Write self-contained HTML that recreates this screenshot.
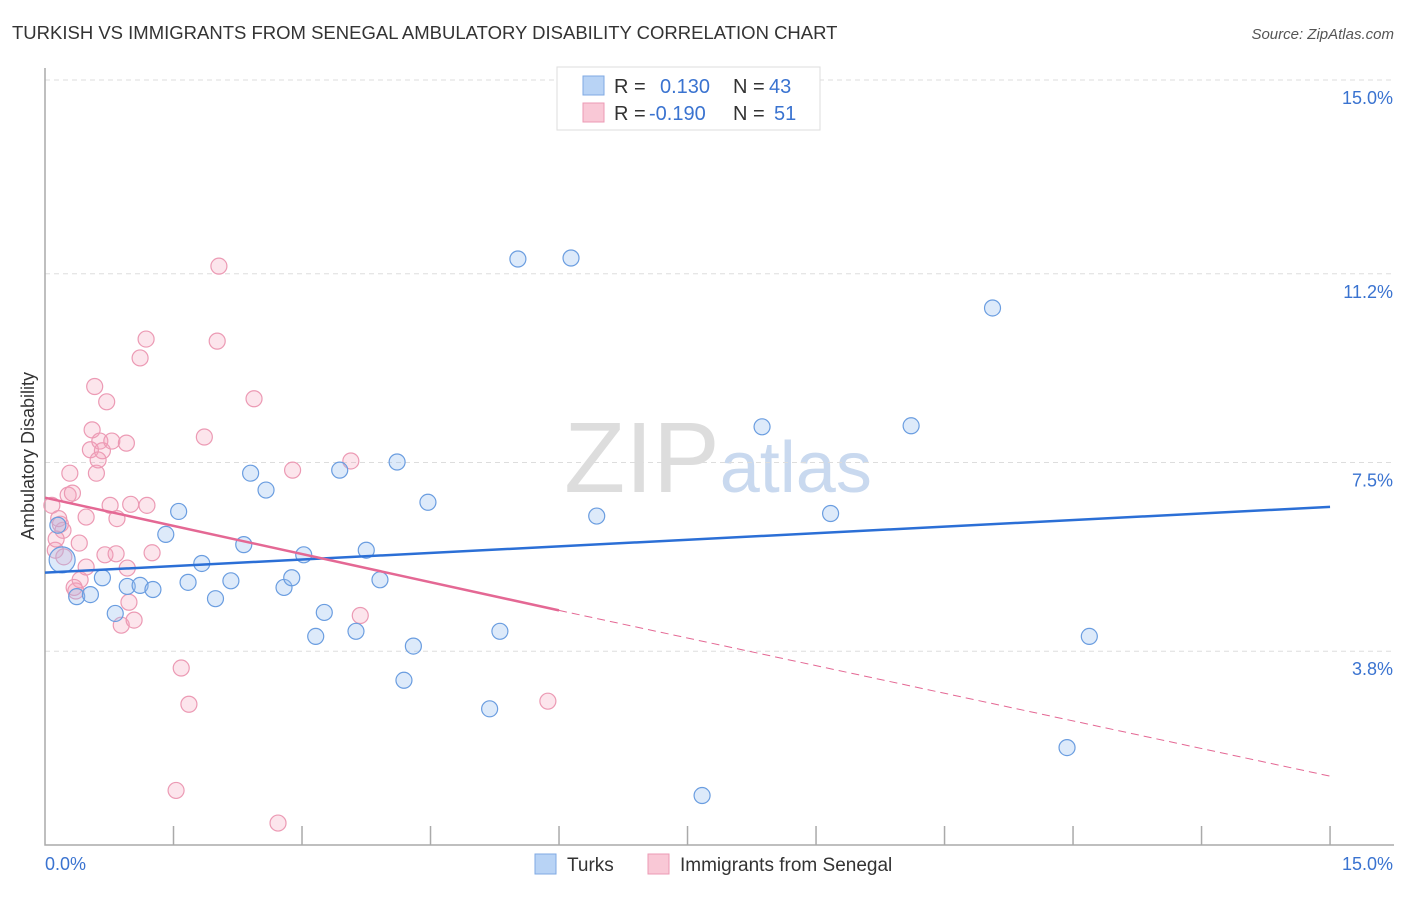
<!DOCTYPE html>
<html><head><meta charset="utf-8"><style>
body{margin:0;background:#fff;font-family:"Liberation Sans",sans-serif;}
svg text{font-family:"Liberation Sans",sans-serif;}
</style></head><body>
<svg id="chart" width="1406" height="892" xmlns="http://www.w3.org/2000/svg">
<text x="12" y="39" font-size="18.5" fill="#333">TURKISH VS IMMIGRANTS FROM SENEGAL AMBULATORY DISABILITY CORRELATION CHART</text>
<text x="1394" y="39" font-size="15" fill="#555" font-style="italic" text-anchor="end">Source: ZipAtlas.com</text>
<text x="718" y="492" font-size="100" text-anchor="middle" fill="#ddd" font-family="Liberation Serif,serif">ZIP<tspan fill="#c9d9ef" font-family="Liberation Sans,sans-serif" font-size="72">atlas</tspan></text>
<g id="grid"></g><g id="axes"></g><g id="pts"></g><g id="trend"></g>
<text transform="translate(34,456) rotate(-90)" font-size="18" fill="#333" text-anchor="middle">Ambulatory Disability</text>
<g>
<rect x="557" y="67" width="263" height="63" fill="#fff" stroke="#ddd"/>
<rect x="583" y="76" width="21" height="19" fill="#b8d3f5" stroke="#7fa9e3"/>
<rect x="583" y="103" width="21" height="19" fill="#f9c8d6" stroke="#ec9ab4"/>
<text x="614" y="93" font-size="20" fill="#333">R =</text><text x="660" y="93" font-size="20" fill="#3a73d0">0.130</text>
<text x="733" y="93" font-size="20" fill="#333">N =</text><text x="769" y="93" font-size="20" fill="#3a73d0">43</text>
<text x="614" y="120" font-size="20" fill="#333">R =</text><text x="649" y="120" font-size="20" fill="#3a73d0">-0.190</text>
<text x="733" y="120" font-size="20" fill="#333">N =</text><text x="774" y="120" font-size="20" fill="#3a73d0">51</text>
</g>
<g><rect x="535" y="854" width="21" height="20" fill="#b8d3f5" stroke="#7fa9e3"/><text x="567" y="871" font-size="19" fill="#333">Turks</text></g>
<g><rect x="648" y="854" width="21" height="20" fill="#f9c8d6" stroke="#ec9ab4"/><text x="680" y="871" font-size="19" fill="#333">Immigrants from Senegal</text></g>
</svg>
<script>
const yTicks=[15.0,11.2,7.5,3.8];
const yTickLabels=["15.0%","11.2%","7.5%","3.8%"];
const xTickLabels=["0.0%","15.0%"];
const turksX=[0.20,0.15,0.67,0.37,0.53,0.82,0.96,1.11,1.26,1.41,1.56,1.67,1.83,1.99,2.17,2.32,2.40,2.58,2.79,2.88,3.02,3.16,3.26,3.44,3.63,3.75,3.91,4.11,4.19,4.30,4.47,5.19,5.31,5.52,6.14,6.44,7.67,8.37,9.17,10.11,11.06,11.93,12.19];
const turksY=[5.59,6.27,5.24,4.87,4.91,4.54,5.07,5.09,5.01,6.09,6.54,5.15,5.52,4.83,5.18,5.89,7.29,6.96,5.05,5.24,5.69,4.09,4.56,7.35,4.19,5.78,5.20,7.51,3.23,3.90,6.72,2.67,4.19,11.49,11.51,6.45,0.97,8.20,6.50,8.22,10.53,1.91,4.09];
const senX=[0.08,0.12,0.18,0.21,0.27,0.29,0.32,0.41,0.36,0.40,0.48,0.48,0.53,0.55,0.60,0.64,0.67,0.72,0.58,0.76,0.78,0.70,0.83,0.84,0.89,0.96,0.95,0.98,1.00,1.04,1.11,1.18,1.19,1.25,1.59,1.68,1.53,1.86,2.01,2.03,2.44,2.72,2.89,3.57,3.68,5.87,0.13,0.22,0.34,0.62,0.16];
const senY=[6.66,5.78,6.29,6.17,6.86,7.29,6.90,5.20,4.98,5.92,6.43,5.45,7.75,8.14,7.29,7.92,7.73,8.69,8.99,6.66,7.92,5.69,5.71,6.40,4.31,5.43,7.88,4.76,6.68,4.41,9.55,9.92,6.66,5.73,3.47,2.76,1.07,8.00,9.88,11.35,8.75,0.43,7.35,7.53,4.50,2.82,6.00,5.65,5.05,7.55,6.40];
const turksTrend=[0,5.34,15,6.63];
const senTrend=[0,6.81,6.0,4.60,15,1.35];
const X=v=>45+v*85.67, Y=v=>80+(15-v)*51.0;
const NS="http://www.w3.org/2000/svg";
function mk(t,a,p){const e=document.createElementNS(NS,t);for(const k in a)e.setAttribute(k,a[k]);document.getElementById(p).appendChild(e);return e;}
yTicks.forEach((t,i)=>{
 const l=mk('line',{x1:45,x2:1394,y1:Y(t),y2:Y(t),stroke:'#ddd','stroke-dasharray':'5,4'},'grid');
 
 
 const tx=mk('text',{x:1393,y:Y(t)+24,'font-size':18,fill:'#3a73d0','text-anchor':'end'},'grid');
 tx.textContent=yTickLabels[i];
 
 
});
const ax=mk('path',{d:'M45,68 V845 H1394',fill:'none',stroke:'#aaa','stroke-width':1.5},'axes');


for(let i=1;i<=10;i++){const t=mk('line',{x1:X(i*1.5),x2:X(i*1.5),y1:826,y2:845,stroke:'#aaa','stroke-width':1.5},'axes');
 
 }
[[45,'start'],[1393,'end']].forEach((p,i)=>{const t=mk('text',{x:p[0],y:870,'font-size':18,fill:'#3a73d0','text-anchor':p[1]},'axes');t.textContent=xTickLabels[i];
 
 });
senX.forEach((x,i)=>{const c=mk('circle',{cx:X(x),cy:Y(senY[i]),r:8,fill:'rgba(244,160,188,0.28)',stroke:'#ec9ab4','stroke-width':1.2},'pts');
 
 });
turksX.forEach((x,i)=>{const c=mk('circle',{cx:X(x),cy:Y(turksY[i]),r:i==0?13:8,fill:'rgba(150,190,240,0.32)',stroke:'#6a9de0','stroke-width':1.2},'pts');
 
 });
const tl=mk('line',{x1:X(turksTrend[0]),y1:Y(turksTrend[1]),x2:X(turksTrend[2]),y2:Y(turksTrend[3]),stroke:'#2b6fd6','stroke-width':2.5},'trend');


const sl=mk('line',{x1:X(senTrend[0]),y1:Y(senTrend[1]),x2:X(senTrend[2]),y2:Y(senTrend[3]),stroke:'#e46894','stroke-width':2.5},'trend');


const sd=mk('line',{x1:X(senTrend[2]),y1:Y(senTrend[3]),x2:X(senTrend[4]),y2:Y(senTrend[5]),stroke:'#e46894','stroke-width':1,'stroke-dasharray':'8,5'},'trend');


</script>
</body></html>
